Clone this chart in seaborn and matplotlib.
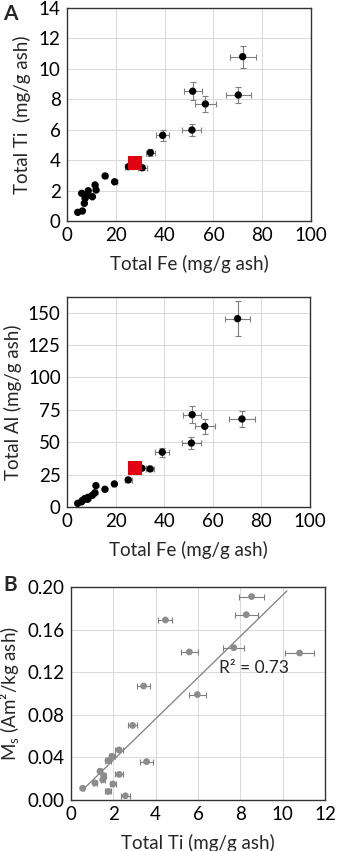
import matplotlib
matplotlib.use('Agg')
import matplotlib.pyplot as plt
import numpy   as np
import pandas  as pd
import seaborn as sns

# Panel A data: total Fe vs total Ti / total Al (mg/g ash)
fe     = [4.4, 6.3, 6.0, 7.1, 7.4, 8.7, 8.5, 10.4, 11.5, 11.9, 15.6, 19.5,
          25.2, 30.8, 34.2, 39.2, 51.2, 51.5, 56.7, 70.2, 72.0]
fe_err = [0.3, 0.3, 0.3, 0.3, 0.3, 0.3, 0.3, 0.4, 0.4, 0.4, 0.6, 0.8,
          1.5, 1.8, 1.8, 2.8, 3.9, 3.7, 4.2, 5.1, 5.3]
ti     = [0.57, 0.66, 1.82, 1.16, 1.49, 1.99, 1.71, 1.60, 2.37, 2.04, 2.96, 2.58,
          3.57, 3.50, 4.49, 5.63, 5.98, 8.53, 7.69, 8.28, 10.80]
ti_err = [0.05, 0.05, 0.08, 0.06, 0.07, 0.08, 0.07, 0.07, 0.09, 0.09, 0.10, 0.10,
          0.10, 0.15, 0.25, 0.35, 0.40, 0.60, 0.50, 0.50, 0.72]
al     = [2.8, 5.0, 4.1, 6.0, 6.5, 7.5, 6.0, 9.0, 11.0, 16.5, 13.7, 17.8,
          20.9, 29.9, 29.4, 42.3, 49.3, 71.2, 62.2, 145.3, 67.9]
al_err = [0.3, 0.3, 0.3, 0.4, 0.4, 0.4, 0.4, 0.5, 0.6, 0.8, 0.8, 1.0,
          1.5, 1.5, 1.5, 3.5, 4.5, 6.4, 5.5, 13.3, 6.0]

# reference material (red square)
ref_fe = [28.0]
ref_ti = [3.83]
ref_al = [30.4]

# Panel B data: total Ti vs saturation magnetisation
ti_b     = [8.53, 8.28, 4.46, 5.59, 7.69, 10.80, 3.43, 5.97, 2.91, 3.57, 2.27,
            1.94, 1.75, 1.37, 1.54, 1.50, 2.28, 1.13, 1.98, 0.55, 1.76, 2.57]
ti_b_err = [0.57, 0.55, 0.33, 0.40, 0.50, 0.69, 0.30, 0.40, 0.20, 0.30, 0.20,
            0.15, 0.15, 0.10, 0.10, 0.10, 0.20, 0.10, 0.15, 0.05, 0.15, 0.20]
ms       = [0.191, 0.174, 0.169, 0.139, 0.143, 0.138, 0.107, 0.099, 0.070, 0.036, 0.047,
            0.041, 0.037, 0.027, 0.023, 0.019, 0.024, 0.016, 0.015, 0.011, 0.008, 0.004]

# linear trendline
trend_coef  = [0.01936, -0.0012]
trend_range = [0.55, 10.2]
r2_label    = 'R² = 0.73'

sns.set_theme(style='whitegrid')
plt.rcParams['font.family'] = ['Lato', 'DejaVu Sans']

df_a = pd.DataFrame({'fe': fe, 'ti': ti, 'al': al})
df_b = pd.DataFrame({'ti': ti_b, 'ms': ms})

W, H = 339, 851
fig = plt.figure(figsize=(W / 100, H / 100), dpi=100)

def box(left, top, right, bottom):
    return [left / W, 1 - bottom / H, (right - left) / W, (bottom - top) / H]

err_kw  = dict(fmt='none', ecolor='#7f7f7f', elinewidth=0.8, capsize=2, capthick=0.8, zorder=2)
fs_tick = 13.5
fs_lab  = 13.5

def style(ax):
    ax.grid(True, color='#d9d9d9', linewidth=0.7)
    for s in ax.spines.values():
        s.set_color('#333333')
        s.set_linewidth(1.0)
    ax.tick_params(length=0, pad=4.5, labelsize=fs_tick, colors='black')
    ax.set_axisbelow(True)

# 1: Ti vs Fe
ax1 = fig.add_axes(box(67, 8, 311, 221))
ax1.errorbar(fe, ti, xerr=fe_err, yerr=ti_err, **err_kw)
sns.scatterplot(data=df_a, x='fe', y='ti', ax=ax1, color='black', s=28,
                edgecolor='none', zorder=3)
ax1.scatter(ref_fe, ref_ti, marker='s', s=90, color='#e3000f', zorder=4, linewidths=0)
ax1.set_xlim(0, 100)
ax1.set_ylim(0, 14)
ax1.set_xticks(range(0, 101, 20))
ax1.set_yticks(range(0, 15, 2))
ax1.set_xlabel('Total Fe (mg/g ash)', fontsize=fs_lab, labelpad=8)
ax1.set_ylabel('Total Ti  (mg/g ash)', fontsize=fs_lab, labelpad=6)
style(ax1)

# 2: Al vs Fe
ax2 = fig.add_axes(box(67, 297, 310, 507))
ax2.errorbar(fe, al, xerr=fe_err, yerr=al_err, **err_kw)
sns.scatterplot(data=df_a, x='fe', y='al', ax=ax2, color='black', s=28,
                edgecolor='none', zorder=3)
ax2.scatter(ref_fe, ref_al, marker='s', s=90, color='#e3000f', zorder=4, linewidths=0)
ax2.set_xlim(0, 100)
ax2.set_ylim(0, 162)
ax2.set_xticks(range(0, 101, 20))
ax2.set_yticks(range(0, 151, 25))
ax2.set_xlabel('Total Fe (mg/g ash)', fontsize=fs_lab, labelpad=8)
ax2.set_ylabel('Total Al (mg/g ash)', fontsize=fs_lab, labelpad=4)
style(ax2)

# 3: Ms vs Ti
ax3 = fig.add_axes(box(71, 587, 325, 800))
ax3.errorbar(ti_b, ms, xerr=ti_b_err, **err_kw)
sns.scatterplot(data=df_b, x='ti', y='ms', ax=ax3, color='#8c8c8c', s=24,
                edgecolor='none', zorder=3)
xl = np.array(trend_range)
ax3.plot(xl, np.polyval(trend_coef, xl), color='#7f7f7f', linewidth=0.9, zorder=2)
ax3.text(7.0, 0.124, r2_label, fontsize=12.5, va='center', ha='left')
ax3.set_xlim(0, 12)
ax3.set_ylim(0, 0.20)
ax3.set_xticks(range(0, 13, 2))
ax3.set_yticks(np.arange(0, 0.201, 0.04))
ax3.yaxis.set_major_formatter(matplotlib.ticker.FormatStrFormatter('%.2f'))
ax3.set_xlabel('Total Ti (mg/g ash)', fontsize=fs_lab, labelpad=8)
ax3.set_ylabel(r'M$_\mathregular{s}$ (Am²/kg ash)', fontsize=fs_lab, labelpad=4)
style(ax3)

fig.text(3 / W, 1 - 14 / H, 'A', fontsize=15, fontweight='bold', va='center', ha='left')
fig.text(3 / W, 1 - 585 / H, 'B', fontsize=15, fontweight='bold', va='center', ha='left')

plt.savefig('out.png', dpi=100)
